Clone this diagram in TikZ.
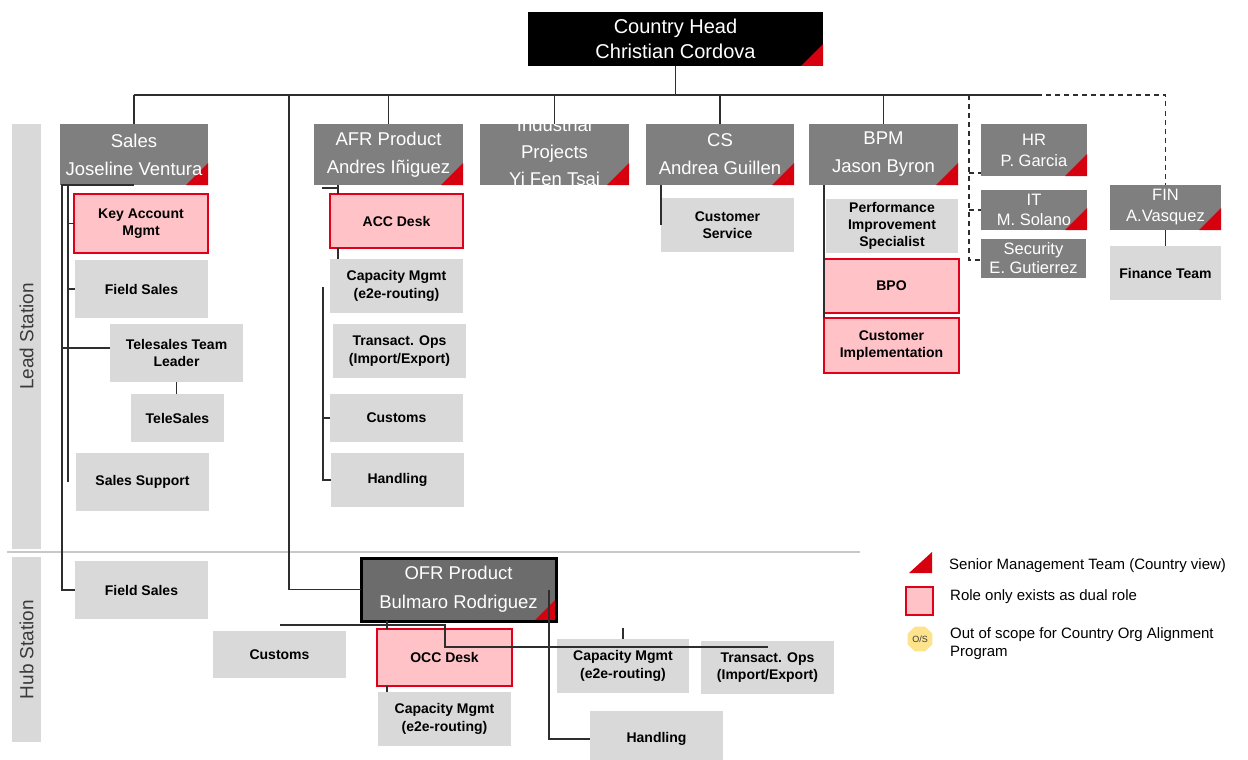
\documentclass[tikz,border=0pt]{standalone}
\usepackage{fontspec}
\setmainfont{Liberation Sans}
\usetikzlibrary{shapes.geometric}
\definecolor{hdrgrey}{HTML}{7F7F7F}
\definecolor{ofrgrey}{HTML}{6C6C6C}
\definecolor{subgrey}{HTML}{D9D9D9}
\definecolor{dualpink}{HTML}{FFC2C7}
\definecolor{dualred}{HTML}{E0001B}
\definecolor{smtred}{HTML}{D6000F}
\definecolor{lineclr}{HTML}{2E2E2E}
\definecolor{sepgrey}{HTML}{C8C8C8}
\definecolor{stripgrey}{HTML}{D9D9D9}
\definecolor{striptext}{HTML}{3A3A3A}
\definecolor{osyellow}{HTML}{FDE38C}
\begin{document}
\begin{tikzpicture}[x=1pt,y=-1pt,
  wh/.style 2 args={minimum width=#1pt, minimum height=#2pt},
  smt/.style={path picture={\fill[smtred] (path picture bounding box.south east) -- ++(-22pt,0pt) -- ++(22pt,22pt) -- cycle;}},
  box/.style={inner sep=0pt, outer sep=0pt, align=center, anchor=center},
  hdr/.style={box, fill=hdrgrey, text=white, font=\fontsize{18.5}{28}\selectfont},
  hdrs/.style={box, fill=hdrgrey, text=white, font=\fontsize{16.5}{21}\selectfont},
  sub/.style={box, fill=subgrey, text=black, font=\bfseries\fontsize{14}{17.5}\selectfont},
  dual/.style={sub, fill=dualpink, draw=dualred, line width=2pt},
  strip/.style={box, fill=stripgrey, text=striptext, font=\fontsize{19}{22}\selectfont},
  conn/.style={draw=lineclr, line width=1.4pt},
  bus/.style={draw=lineclr, line width=1.8pt},
  dconn/.style={draw=lineclr, line width=1.4pt, dash pattern=on 5pt off 4pt},
  legtext/.style={inner sep=0pt, anchor=west, align=left, font=\fontsize{15}{18.5}\selectfont},
]
\fill[white] (0,0) rectangle (1248,760);
\useasboundingbox (0,0) rectangle (1248,760);

% station strips and separator
\node[strip, wh={425}{29}, rotate=90] (lead) at (26.5,336.5) {Lead Station};
\node[strip, wh={185}{29}, rotate=90] (hub) at (26.5,649.5) {Hub Station};
\coordinate (sepL) at (7,552);
\coordinate (sepR) at (860,552);
\draw[draw=sepgrey, line width=1.4pt] (sepL) -- (sepR);

% top level
\node[hdr, smt, wh={295}{54}, fill=black, font=\fontsize{20}{25}\selectfont] (head) at (675.5,39) {Country Head\\Christian Cordova};

\node[hdr, smt, wh={148}{61}] (sales) at (134,154.5) {Sales\\Joseline Ventura};
\node[hdr, smt, wh={149}{61}] (afr) at (388.5,154.5) {AFR Product\\Andres Iñiguez};
\node[hdr, smt, wh={149}{61}] (ind) at (554.5,154.5) {};
\node[box, text=white, font=\fontsize{18.5}{27}\selectfont] (indt) at (554.5,152) {Industrial\\Projects\\Yi Fen Tsai};
\node[hdr, smt, wh={148}{61}] (cs) at (720,154.5) {CS\\Andrea Guillen};
\node[hdr, smt, wh={149}{61}] (bpm) at (883.5,154.5) {BPM\\Jason Byron};
\node[hdrs, smt, wh={106}{52}] (hr) at (1034,150) {HR\\P. Garcia};
\node[hdrs, smt, wh={106}{40}, font=\fontsize{16.5}{20}\selectfont] (it) at (1034,210) {IT\\M. Solano};
\node[hdrs, wh={105}{39}, font=\fontsize{16.5}{19}\selectfont] (sec) at (1033.5,258.5) {Security\\E. Gutierrez};
\node[hdrs, smt, wh={111}{45}] (fin) at (1165.5,207.5) {FIN\\A.Vasquez};
\node[sub, wh={111}{54}] (finteam) at (1165.5,273) {Finance Team};

% sales column
\node[dual, wh={134}{59}] (kam) at (141,223.5) {Key Account\\Mgmt};
\node[sub, wh={133}{58}] (fs1) at (141.5,289) {Field Sales};
\node[sub, wh={133}{58}] (tl) at (176.5,353) {Telesales Team\\Leader};
\node[sub, wh={93}{48}] (ts) at (177.5,418) {TeleSales};
\node[sub, wh={133}{58}] (ss) at (142.5,482) {Sales Support};
\node[sub, wh={133}{58}] (fs2) at (141.5,590) {Field Sales};

% AFR column
\node[dual, wh={133}{54}] (acc) at (396.5,221) {ACC Desk};
\node[sub, wh={133}{54}] (cap1) at (396.5,286) {Capacity Mgmt\\(e2e-routing)};
\node[sub, wh={133}{54}] (tro1) at (399.5,351) {Transact. Ops\\(Import/Export)};
\node[sub, wh={133}{48}] (cus1) at (396.5,418) {Customs};
\node[sub, wh={133}{54}] (hdl1) at (397.5,480) {Handling};

% CS column
\node[sub, wh={133}{54}] (csv) at (727.5,225) {Customer\\Service};

% BPM column
\node[sub, wh={132}{54}, font=\bfseries\fontsize{14}{17}\selectfont] (pis) at (892,226) {Performance\\Improvement\\Specialist};
\node[dual, wh={135}{54}] (bpo) at (891.5,286) {BPO};
\node[dual, wh={135}{55}] (cimp) at (891.5,345.5) {Customer\\Implementation};

% OFR (hub)
\node[hdr, smt, wh={195}{63}, fill=ofrgrey, draw=black, line width=3pt, font=\fontsize{18.5}{29}\selectfont] (ofr) at (458.5,589.5) {OFR Product\\Bulmaro Rodriguez};
\node[sub, wh={133}{47}] (cus2) at (279.5,654.5) {Customs};
\node[dual, wh={135}{57}] (occ) at (444.5,657.5) {OCC Desk};
\node[sub, wh={133}{54}] (cap2) at (444.5,719) {Capacity Mgmt\\(e2e-routing)};
\node[sub, wh={132}{54}] (cap3) at (623,666) {Capacity Mgmt\\(e2e-routing)};
\node[sub, wh={133}{53}] (tro2) at (767.5,667.5) {Transact. Ops\\(Import/Export)};
\node[sub, wh={133}{56}] (hdl2) at (656.5,739) {Handling};

% ---------- connectors ----------
\coordinate (busL) at (134,95);
\coordinate (busR) at (1037,95);
\coordinate (ofrbus) at (289,95);
\draw[bus] (busL) -- (busR);
\draw[bus] (head.south) -- (head.south |- busL);
\draw[conn] (sales.north) -- (sales.north |- busL);
\draw[conn] (afr.north) -- (afr.north |- busL);
\draw[conn] (ind.north) -- (ind.north |- busL);
\draw[conn] (cs.north) -- (cs.north |- busL);
\draw[conn] (bpm.north) -- (bpm.north |- busL);
\draw[conn] (ofrbus) |- (ofr.west);

% dashed (staff functions)
\coordinate (dtop) at (969,95);
\coordinate (dbot) at (969,260);
\coordinate (hrs) at ([yshift=3pt]hr.south west);
\draw[dconn] (dtop) -- (dbot) -- (dbot -| sec.west);
\draw[dconn] (hrs -| dtop) -- (hrs);
\draw[dconn] (it.west -| dtop) -- (it.west);
\draw[dconn] (busR) -| (fin.north);
\draw[conn] (fin.south) -- (finteam.north);

% sales connectors
\coordinate (sl) at (62,185);
\coordinate (sl2) at (68,185);
\draw[conn] (sales.south) -- (sl) |- (fs2.west);
\draw[conn] (sl2) -- (sl2 |- ss.west);
\draw[conn] (sl2 |- kam.west) -- (kam.west);
\draw[conn] (sl2 |- fs1.west) -- (fs1.west);
\draw[conn] ([yshift=5pt]sl |- tl.west) -- ([yshift=5pt]tl.west);
\draw[conn] (tl.south) -- (tl.south |- ts.north);

% AFR connectors
\coordinate (al) at (338,185);
\coordinate (av) at (323,287);
\draw[conn] (al) -- (al |- acc.north);
\draw[conn] ([yshift=-3pt]al) -- ++(-16pt,0pt);
\draw[conn] (al |- acc.south) -- (al |- cap1.north);
\draw[conn] (av) |- (hdl1.west);
\draw[conn] (av |- cus1.west) -- (cus1.west);

% CS / BPM connectors
\draw[conn] (csv.west |- cs.south) -- (csv.west);
\draw[conn] (bpo.north west |- bpm.south) -- (cimp.north west);

% OFR connectors
\coordinate (ox) at (387,621);
\coordinate (hb1) at (280,625);
\coordinate (hb2) at (445,625);
\coordinate (hl) at (445,647);
\coordinate (oh) at (549,590);
\draw[conn] (ox) -- (ox |- occ.north);
\draw[conn] (ox |- occ.south) -- (ox |- cap2.north);
\draw[conn] (hb1) -- (hb2) -- (hl) -- (hl -| tro2.north);
\draw[conn] (cap3.north) -- ++(0pt,11pt);
\draw[conn] (oh) |- (hdl2.west);

% ---------- legend ----------
\fill[smtred] (909,573) -- (932,573) -- (932,552) -- cycle;
\node[legtext] (lg1) at (949,566) {Senior Management Team (Country view)};
\node[dual, wh={27}{28}] (lgbox) at (919.5,601) {};
\node[legtext] (lg2) at (950,597) {Role only exists as dual role};
\node[regular polygon, regular polygon sides=8, fill=osyellow, minimum size=27pt, inner sep=0pt, text=striptext, font=\fontsize{9}{10}\selectfont] (os) at (920,639) {O/S};
\node[legtext, anchor=north west] (lg3) at (950,627) {Out of scope for Country Org Alignment\\Program};
\end{tikzpicture}
\end{document}
